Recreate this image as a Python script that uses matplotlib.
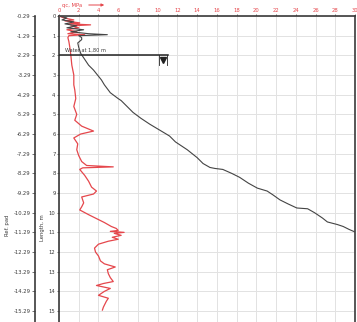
import matplotlib
matplotlib.use("Agg")
import matplotlib.pyplot as plt
import numpy as np

# ---- data ----
qc_depth = [0.0, 0.1, 0.2, 0.25, 0.35, 0.4, 0.45, 0.5, 0.6, 0.7, 0.8, 0.9, 0.95, 1.0, 1.1, 1.3, 1.6,
            2.0, 2.5, 3.0, 3.5, 3.76, 4.2, 4.6, 5.0, 5.3, 5.6, 5.85, 6.0, 6.2, 6.5, 6.8, 7.1, 7.4,
            7.6, 7.67, 7.72, 7.8, 8.1, 8.4, 8.7, 8.9, 9.05, 9.2, 9.5, 9.7, 9.86, 10.1, 10.3, 10.5,
            10.7, 10.8, 10.9, 10.95, 11.0, 11.05, 11.15, 11.25, 11.35, 11.45, 11.6, 11.8, 12.0,
            12.2, 12.45, 12.6, 12.76, 12.9, 13.1, 13.3, 13.5, 13.6, 13.7, 13.85, 14.0, 14.2,
            14.35, 14.5, 14.6, 14.8, 14.95]
qc_value = [0.0, 0.5, 1.5, 0.6, 2.1, 1.0, 3.2, 1.2, 2.0, 0.8, 1.8, 0.9, 2.6, 1.0, 0.9, 1.0, 1.1,
            1.2, 1.3, 1.5, 1.5, 1.6, 1.7, 1.5, 1.8, 1.6, 2.3, 3.5, 2.2, 1.5, 1.9, 1.8, 2.0, 2.3,
            2.8, 5.5, 2.4, 2.1, 2.6, 3.0, 3.3, 3.8, 3.5, 2.3, 2.5, 2.3, 2.1, 3.0, 3.8, 4.6,
            5.3, 5.8, 6.0, 5.2, 6.6, 5.6, 6.3, 5.4, 6.0, 5.0, 4.0, 3.6, 3.7,
            4.0, 4.2, 4.6, 5.7, 4.9, 5.0, 5.2, 5.5, 4.5, 3.8, 5.2, 4.6, 4.0,
            5.0, 4.8, 4.7, 4.5, 4.4]

blk_depth = [0.0, 0.1, 0.2, 0.3, 0.4, 0.5, 0.6, 0.7, 0.8, 0.9, 0.95, 1.0, 1.1, 1.2, 1.37, 1.6, 1.9,
             2.2, 2.5, 2.75, 3.0, 3.25, 3.5, 3.9, 4.2, 4.3, 4.6, 4.9, 5.2, 5.5, 5.8, 6.1, 6.4,
             6.8, 7.2, 7.5, 7.7, 7.75, 7.8, 8.0, 8.2, 8.5, 8.75, 8.9, 9.1, 9.35, 9.55, 9.76,
             9.8, 10.0, 10.27, 10.47, 10.6, 10.7, 10.85, 10.98, 11.1]
blk_value = [0.0, 0.8, 0.3, 1.5, 0.6, 1.8, 0.8, 2.5, 1.2, 3.0, 4.9, 2.0, 2.3, 2.3, 1.9, 2.0, 2.2,
             2.6, 3.0, 3.5, 3.9, 4.3, 4.6, 5.2, 6.0, 6.3, 6.9, 7.5, 8.3, 9.2, 10.2, 11.2, 11.8,
             13.0, 14.0, 14.6, 15.3, 15.8, 16.6, 17.5, 18.3, 19.2, 20.1, 21.1, 21.7, 22.4, 23.2, 24.1,
             25.2, 25.9, 26.7, 27.2, 28.2, 28.8, 29.4, 30.0, 31.0]

x_ticks = list(range(0, 31, 2))
length_ticks = list(range(0, 16))
ref_offset = -0.29
water_label = "Water at 1,80 m"
water_line_depth = 2.0
water_line_end = 11.0
marker_x = 10.55

# ---- figure ----
W, H = 357, 322
fig = plt.figure(figsize=(W / 100, H / 100), dpi=100)
x0, x1, ytop = 59, 355, 16
ax = fig.add_axes([x0 / W, 0, (x1 - x0) / W, 1 - ytop / H])
ymax = (H - ytop) / 19.67
ax.set_xlim(0, 30)
ax.set_ylim(ymax, 0)

red = "#e5474c"
dark = "#3a3a3a"

ax.set_xticks(x_ticks)
ax.set_yticks(length_ticks)
ax.grid(True, color="#e2e2e2", lw=0.7)
ax.set_axisbelow(True)
ax.xaxis.tick_top()
ax.tick_params(axis="x", colors=red, labelsize=3.8, length=1.5, pad=1, width=0.5)
ax.tick_params(axis="y", colors=dark, labelsize=3.8, length=1.5, pad=1, width=0.5)
ax.tick_params(axis="x", which="both", color=dark)
for s in ["top", "left", "right"]:
    ax.spines[s].set_color(dark)
    ax.spines[s].set_linewidth(1.2)
ax.spines["bottom"].set_visible(False)
ax.set_ylabel("Length, m", fontsize=3.8, color=dark)
ax.yaxis.set_label_coords((45 - x0) / (x1 - x0), (H - 228) / (H - ytop))

ax.plot(qc_value, qc_depth, color=red, lw=0.9, zorder=3)
ax.plot(blk_value, blk_depth, color="#444444", lw=0.8, zorder=3)

# water level
ax.plot([0, water_line_end], [water_line_depth, water_line_depth], color="#222222", lw=1.1, zorder=4)
ax.text(0.6, water_line_depth - 0.15, water_label, fontsize=3.6, color=dark, va="bottom", zorder=5)
ax.plot([marker_x], [water_line_depth + 0.25], marker="v", color="#222222", ms=4, zorder=5)
ax.plot([marker_x - 0.4, marker_x - 0.4], [water_line_depth, water_line_depth + 0.5], color="#222222", lw=0.6)
ax.plot([marker_x + 0.4, marker_x + 0.4], [water_line_depth, water_line_depth + 0.5], color="#222222", lw=0.6)

# qc label with arrow
fig.text(62 / W, 1 - 5 / H, "qc, MPa", fontsize=3.8, color=red, va="center", ha="left")
fig.patches.append(matplotlib.patches.FancyArrowPatch((86 / W, 1 - 5 / H), (107 / W, 1 - 5 / H),
                                                      transform=fig.transFigure, arrowstyle="-|>",
                                                      mutation_scale=4, color=red, lw=0.7))

# outer Ref. pad axis
ax2 = ax.twinx()
ax2.set_ylim(ref_offset - ymax, ref_offset)
ref_ticks = [ref_offset - d for d in length_ticks]
ax2.set_yticks(ref_ticks)
ax2.set_yticklabels([f"{v:.2f}" for v in ref_ticks])
ax2.yaxis.set_ticks_position("left")
ax2.yaxis.set_label_position("left")
ax2.spines["left"].set_position(("axes", (35 - x0) / (x1 - x0)))
ax2.spines["left"].set_visible(True)
ax2.spines["left"].set_color(dark)
ax2.spines["left"].set_linewidth(1.2)
for s in ["top", "right", "bottom"]:
    ax2.spines[s].set_visible(False)
ax2.tick_params(axis="y", colors=dark, labelsize=3.8, length=2, pad=1, width=0.5)
ax2.set_ylabel("Ref. pad", fontsize=3.8, color=dark)
ax2.yaxis.set_label_coords((10 - x0) / (x1 - x0), (H - 225) / (H - ytop))

fig.savefig("out.png", dpi=100)
